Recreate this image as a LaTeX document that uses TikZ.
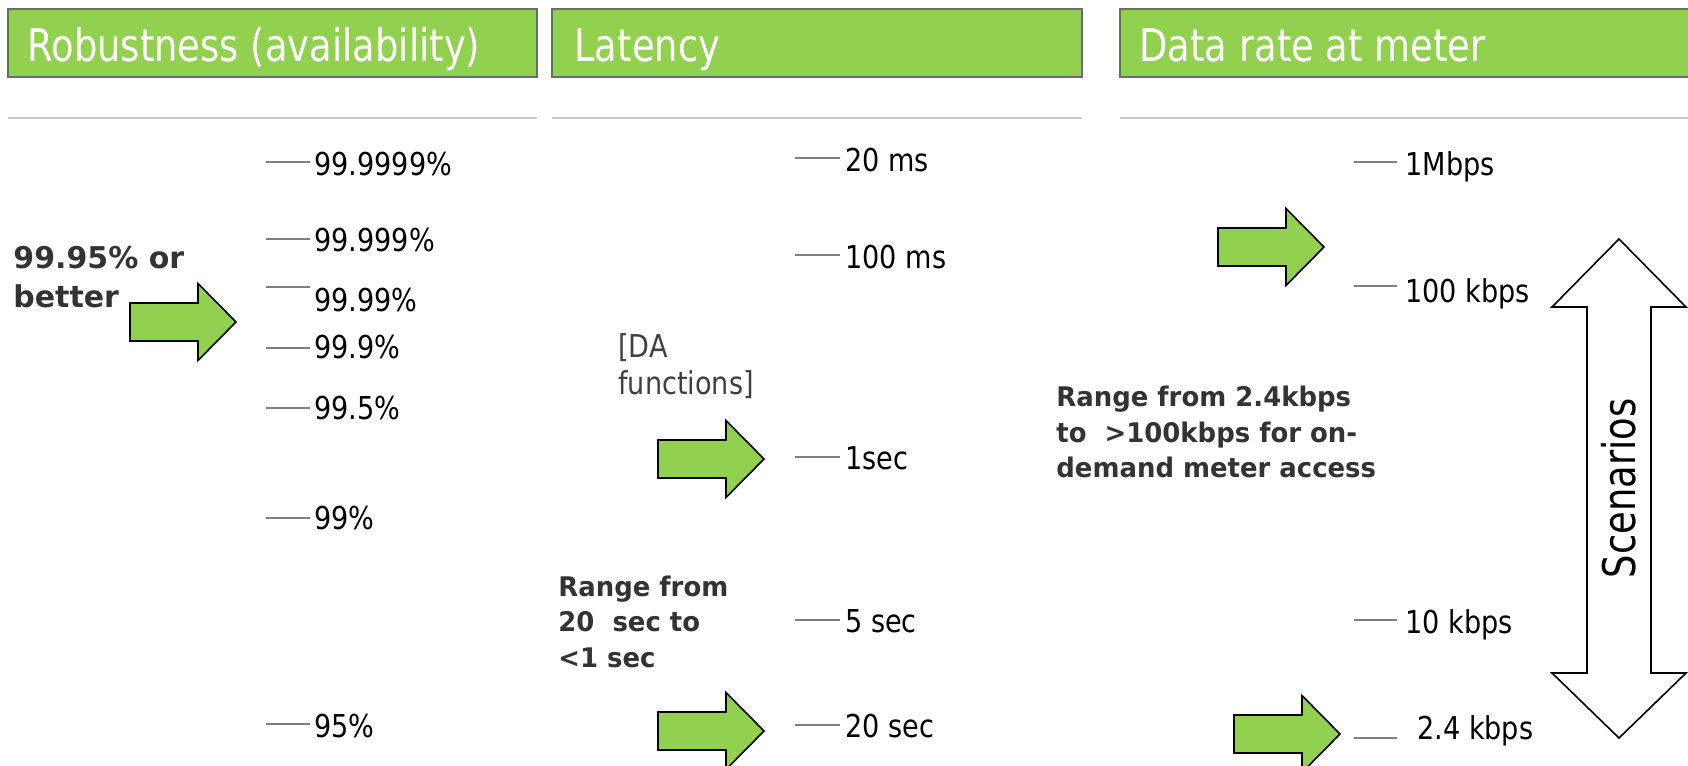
\documentclass[tikz,border=0pt]{standalone}
\usepackage{fontspec}
\setmainfont{DejaVu Sans}
\newfontfamily\headfont[FakeStretch=0.82]{DejaVu Sans}
\newfontfamily\tickfont[FakeStretch=0.86]{DejaVu Sans}
\newfontfamily\notefont[FakeStretch=0.96]{DejaVu Sans}
\usepackage{tikz}

\definecolor{hdgreen}{HTML}{92D050}
\definecolor{hdborder}{HTML}{6B6B6B}
\definecolor{rulegray}{HTML}{C8C8C8}
\definecolor{tickgray}{HTML}{7F7F7F}
\definecolor{notegray}{HTML}{333333}
\definecolor{dagray}{HTML}{404040}

\tikzset{
	headbox/.style={fill=hdgreen, draw=hdborder, line width=1pt},
	headtext/.style={text=white, inner sep=0pt, anchor=base west, font={\headfont\fontsize{22.5}{27}\selectfont}},
	headrule/.style={draw=rulegray, line width=1pt},
	tickmark/.style={draw=tickgray, line width=0.8pt},
	ticklabel/.style={inner sep=0pt, anchor=base west, font={\tickfont\fontsize{15.75}{18}\selectfont}},
	bignote/.style={text=notegray, inner sep=0pt, anchor=north west, align=left, font={\bfseries\fontsize{15}{19.5}\selectfont}},
	rangenote/.style={text=notegray, inner sep=0pt, anchor=north west, align=left, font={\notefont\bfseries\fontsize{13.5}{17.75}\selectfont}},
	danote/.style={text=dagray, inner sep=0pt, anchor=north west, align=left, font={\tickfont\fontsize{15.75}{18.5}\selectfont}},
	arrowline/.style={fill=hdgreen, draw=black, line width=0.8pt, line join=miter},
	scenarrow/.style={fill=white, draw=black, line width=0.8pt, line join=miter},
	pics/greenarrow/.style={code={
		\draw[arrowline] (-106,-19) -- (-38,-19) -- (-38,-38.5) -- (0,0) -- (-38,38.5) -- (-38,19) -- (-106,19) -- cycle;
	}}
}

\begin{document}
\begin{tikzpicture}[x=0.5pt,y=-0.5pt]
	\useasboundingbox (0,0) rectangle (1688,766);
	\clip (0,0) rectangle (1688,766);
	% headers
	\draw[headbox] (7.5,9) rectangle (537,77);
	\draw[headbox] (552,9) rectangle (1082,77);
	\draw[headbox] (1120,9) rectangle (1700,77);
	\node[headtext] (hdrob) at (27,61) {Robustness (availability)};
	\node[headtext] (hdlat) at (574,61) {Latency};
	\node[headtext] (hdrate) at (1139,61) {Data rate at meter};
	\draw[headrule] (7.5,118) -- (537,118);
	\draw[headrule] (552,118) -- (1082,118);
	\draw[headrule] (1120,118) -- (1688,118);
	% robustness scale
	\draw[tickmark] (266,162) -- (310,162);
	\draw[tickmark] (266,239) -- (310,239);
	\draw[tickmark] (266,287) -- (310,287);
	\draw[tickmark] (266,348) -- (310,348);
	\draw[tickmark] (266,408) -- (310,408);
	\draw[tickmark] (266,518) -- (310,518);
	\draw[tickmark] (266,724) -- (310,724);
	\node[ticklabel] (rob1) at (314,175.5) {99.9999\%};
	\node[ticklabel] (rob2) at (314,251.5) {99.999\%};
	\node[ticklabel] (rob3) at (314,311.5) {99.99\%};
	\node[ticklabel] (rob4) at (314,358.5) {99.9\%};
	\node[ticklabel] (rob5) at (314,419.5) {99.5\%};
	\node[ticklabel] (rob6) at (314,529.5) {99\%};
	\node[ticklabel] (rob7) at (314,737.5) {95\%};
	\node[bignote] (robnote) at (13,246) {99.95\% or\\better};
	\pic at (236,322) {greenarrow};
	% latency scale
	\draw[tickmark] (795,158) -- (840,158);
	\draw[tickmark] (795,255) -- (840,255);
	\draw[tickmark] (795,457) -- (840,457);
	\draw[tickmark] (795,620) -- (840,620);
	\draw[tickmark] (795,725) -- (840,725);
	\node[ticklabel] (lat1) at (845,171.5) {20 ms};
	\node[ticklabel] (lat2) at (845,268.5) {100 ms};
	\node[ticklabel] (lat3) at (845,469.5) {1sec};
	\node[ticklabel] (lat4) at (845,632.5) {5 sec};
	\node[ticklabel] (lat5) at (845,737.5) {20 sec};
	\node[danote] (danote) at (618,333) {[DA\\functions]};
	\node[rangenote] (latnote) at (558,575.5) {Range from\\20~ sec to\\<1 sec};
	\pic at (764,459) {greenarrow};
	\pic at (764,731) {greenarrow};
	% data rate scale
	\draw[tickmark] (1354,162) -- (1397,162);
	\draw[tickmark] (1354,286) -- (1397,286);
	\draw[tickmark] (1354,620) -- (1397,620);
	\draw[tickmark] (1354,738) -- (1397,738);
	\node[ticklabel] (rate1) at (1405,175.5) {1Mbps};
	\node[ticklabel] (rate2) at (1405,302.5) {100 kbps};
	\node[ticklabel] (rate3) at (1405,633.5) {10 kbps};
	\node[ticklabel] (rate4) at (1417,739.5) {2.4 kbps};
	\node[rangenote] (ratenote) at (1056,386) {Range from 2.4kbps\\to~ >100kbps for on-\\demand meter access};
	\pic at (1324,247) {greenarrow};
	\pic at (1340,734) {greenarrow};
	% scenarios
	\draw[scenarrow] (1619,239) -- (1686,307) -- (1651,307) -- (1651,673) -- (1686,673) -- (1619,738) -- (1552,673) -- (1587,673) -- (1587,307) -- (1552,307) -- cycle;
	\node[rotate=90, inner sep=0pt, font={\headfont\fontsize{22.5}{27}\selectfont}] (scen) at (1619,488.5) {Scenarios};
\end{tikzpicture}
\end{document}
